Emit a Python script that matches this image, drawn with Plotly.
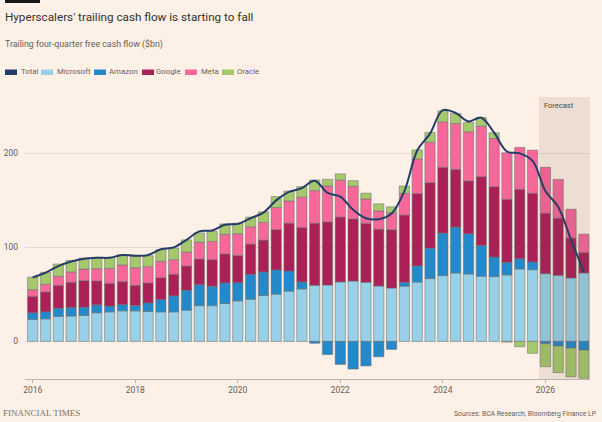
import plotly.graph_objects as go

# quarters 2016Q1 .. 2026Q4 (last four are forecast)
quarters = [f"{y}Q{q}" for y in range(2016, 2027) for q in range(1, 5)]

microsoft = [23.3, 24.0, 26.5, 27.0, 27.6, 30.4, 31.4, 32.5, 32.5, 31.8, 31.4, 31.4,
             33.2, 38.0, 38.0, 40.3, 43.1, 44.9, 48.8, 50.2, 53.4, 55.8, 59.7, 60.0,
             63.3, 64.2, 62.9, 58.9, 56.8, 58.7, 63.1, 66.8, 70.0, 72.8, 71.7, 69.3,
             68.9, 70.7, 77.0, 76.3, 72.1, 70.3, 67.5, 72.8]
amazon = [7.1, 7.4, 8.8, 9.0, 8.8, 8.5, 6.1, 6.7, 5.7, 9.2, 13.1, 17.0,
          21.2, 22.4, 20.7, 21.9, 19.4, 26.5, 25.1, 25.8, 21.5, 7.5, -2.0, -14.0,
          -24.5, -29.4, -26.1, -16.4, -8.5, 4.2, 17.2, 32.5, 45.2, 48.8, 42.8, 32.8,
          20.9, 13.4, 11.0, 8.2, -2.5, -4.9, -7.1, -9.2]
google = [17.6, 21.2, 24.4, 26.9, 28.3, 25.4, 24.3, 24.4, 21.5, 21.2, 23.3, 23.0,
          25.8, 27.2, 28.3, 30.8, 29.0, 32.1, 33.9, 43.0, 50.9, 57.9, 66.1, 67.2,
          69.0, 66.1, 62.7, 60.5, 62.1, 71.5, 77.0, 69.6, 70.0, 61.4, 56.2, 73.2,
          74.9, 67.1, 73.8, 73.1, 64.3, 60.8, 42.4, 21.9]
meta = [7.0, 8.2, 9.6, 11.0, 12.3, 13.1, 15.9, 17.7, 18.7, 17.3, 17.4, 15.5,
        14.8, 18.0, 19.4, 21.0, 23.0, 18.4, 18.7, 23.4, 23.7, 32.2, 34.6, 38.2,
        39.3, 34.7, 25.9, 19.3, 18.0, 23.0, 36.8, 43.0, 48.4, 48.8, 52.3, 53.7,
        51.2, 49.5, 44.6, 45.9, 48.8, 41.3, 30.7, 19.4]
oracle = [13.5, 12.7, 13.0, 12.3, 11.7, 12.0, 11.7, 10.9, 12.1, 11.7, 12.3, 12.4,
          13.0, 9.8, 10.6, 11.0, 11.3, 10.3, 11.3, 11.6, 10.5, 11.3, 11.3, 7.0,
          6.6, 6.0, 6.2, 7.6, 6.2, 7.9, 9.6, 10.4, 11.6, 10.6, 9.9, 9.2,
          6.0, -0.8, -5.7, -12.7, -24.4, -28.3, -30.7, -30.0]
total = [68, 73, 80, 85, 88, 89, 89, 92, 91, 92, 98, 100,
         108, 117, 118, 124, 125, 131, 137, 150, 159, 163, 171, 158,
         154, 140, 131, 130, 136, 160, 203, 221, 246, 243, 234, 238,
         222, 202, 200, 192, 160, 143, 108, 74]

year_ticks = [2016, 2018, 2020, 2022, 2024, 2026]
year_labels = ["2016", "2018", "2020", "2022", "2024", "2026"]
y_ticks = [0, 100, 200]
forecast_start = 2025.875

x = [int(q[:4]) + (int(q[-1]) - 1) / 4 for q in quarters]

colors = {
    "Total": "#243d68",
    "Microsoft": "#98d0e8",
    "Amazon": "#2389cb",
    "Google": "#aa2158",
    "Meta": "#f7689a",
    "Oracle": "#a5c86c",
}
BG = "#fdf0e6"
TXT = "#66605c"
FONT = "Roboto"

fig = go.Figure()
for name, vals in [("Microsoft", microsoft), ("Amazon", amazon), ("Google", google),
                   ("Meta", meta), ("Oracle", oracle)]:
    fig.add_trace(go.Bar(x=x, y=vals, name=name, width=0.2,
                         marker=dict(color=colors[name],
                                     line=dict(color="rgba(110,110,110,0.75)", width=0.7))))

fig.add_trace(go.Scatter(x=x, y=total, name="Total", mode="lines",
                         line=dict(color=colors["Total"], width=2, shape="spline", smoothing=1)))

# plot area in pixels: left 25, right 590, top 97, bottom 379
L, R, T, B = 25, 590, 97, 379


def px(xp, yp):
    return (xp - L) / (R - L), (B - yp) / (B - T)


ann = []


def text(s, xp, yp, size, color=TXT, anchor="left", family=FONT):
    xx, yy = px(xp, yp)
    ann.append(dict(text=s, x=xx, y=yy, xref="paper", yref="paper", showarrow=False,
                    xanchor=anchor, yanchor="middle",
                    font=dict(size=size, color=color, family=family)))


text("Hyperscalers' trailing cash flow is starting to fall", 3, 17, 11.7, "#33302e")
text("Trailing four-quarter free cash flow ($bn)", 3, 44, 8.8)
text("Forecast", 542, 105, 7.5, "#4d4845")
text("FINANCIAL TIMES", 1, 413, 9, "#7a726c", family="Liberation Serif")
text("Sources: BCA Research, Bloomberg Finance LP", 599, 414, 6.8, anchor="right")

shapes = []
# FT top strip
x0, y0 = px(5, 0)
x1, y1 = px(40, 3)
shapes.append(dict(type="rect", xref="paper", yref="paper", x0=x0, x1=x1, y0=y1, y1=y0,
                   fillcolor="#1a1817", line=dict(width=0)))

# custom legend
legend_items = [("Total", 5, 19), ("Microsoft", 41, 55), ("Amazon", 94, 107),
                ("Google", 142, 154), ("Meta", 185, 199), ("Oracle", 222, 235)]
for name, sx, tx in legend_items:
    a0, b0 = px(sx, 69.5)
    a1, b1 = px(sx + 12, 75)
    shapes.append(dict(type="rect", xref="paper", yref="paper", x0=a0, x1=a1, y0=b1, y1=b0,
                       fillcolor=colors[name], line=dict(width=0)))
    text(name, tx, 72, 7.8)

# forecast shading
shapes.append(dict(type="rect", xref="x", yref="paper", x0=forecast_start, x1=2027, y0=0, y1=1,
                   fillcolor="rgba(90,70,50,0.1)", line=dict(width=0), layer="above"))

fig.update_layout(
    width=602, height=422,
    margin=dict(l=L, r=602 - R, t=T, b=422 - B),
    paper_bgcolor=BG, plot_bgcolor=BG,
    barmode="relative", showlegend=False,
    annotations=ann, shapes=shapes,
    font=dict(family=FONT, color=TXT, size=8.5),
)
fig.update_xaxes(range=[2015.85, 2026.87], tickvals=year_ticks, ticktext=year_labels,
                 showgrid=False, zeroline=False, showline=True, linecolor="#bdb2a8",
                 ticks="outside", ticklen=3, tickcolor="#bdb2a8", automargin=False,
                 tickfont=dict(size=8.5, color=TXT))
fig.update_yaxes(range=[-40, 260], tickvals=y_ticks, showgrid=True, gridcolor="#e8dbd0",
                 gridwidth=1, zeroline=False, ticks="", ticklabelstandoff=6, automargin=False,
                 tickfont=dict(size=8.5, color=TXT))

# drop the default page margin so the figure sits at the window's corner
fig.write_html("out.html", config={"displayModeBar": False},
               post_script="document.body.style.margin='0';"
                           "document.body.style.background='" + BG + "';")
